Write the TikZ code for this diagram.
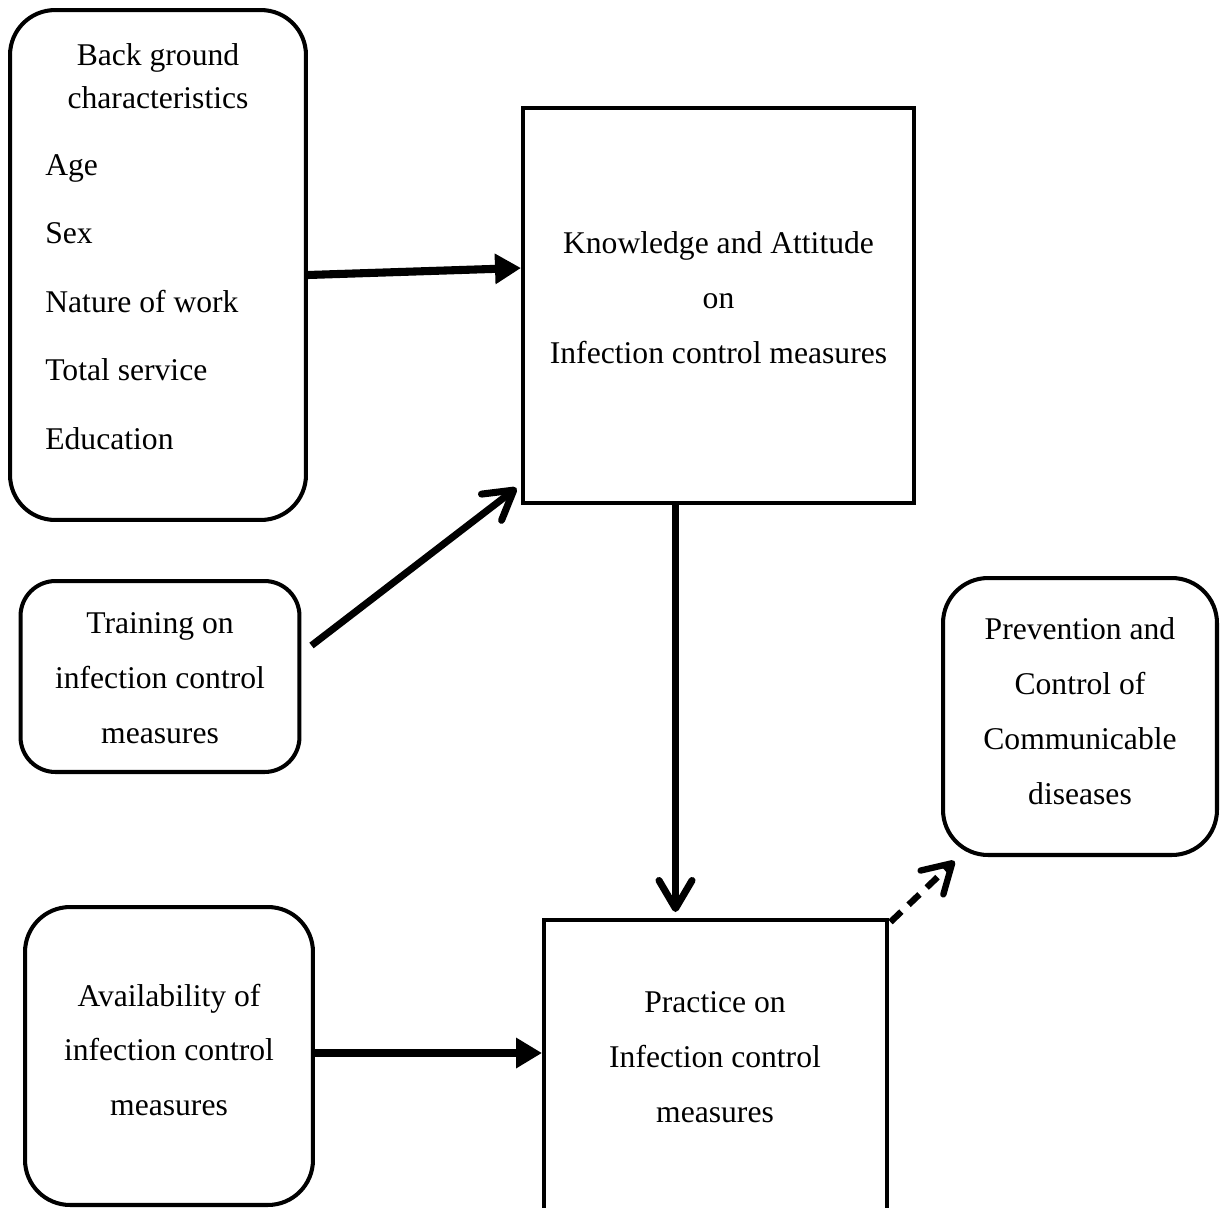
\documentclass[tikz,border=0pt]{standalone}
\usepackage{fontspec}
\setmainfont{Liberation Serif}
\usetikzlibrary{arrows.meta, positioning}

\begin{document}
\begin{tikzpicture}[x=0.02cm, y=-0.02cm,
    font=\fontsize{18}{31.2}\selectfont,
    rbox/.style={draw, line width=2.3pt, rounded corners=0.9cm, inner sep=0pt},
    sqbox/.style={draw, line width=2.3pt, inner sep=0pt},
    txt/.style={align=center, inner sep=0pt},
    fat/.style={line width=4.6pt, -{Triangle[length=0.52cm, width=0.58cm]}},
    barb/.style={line width=4pt, -{Straight Barb[length=0.56cm, width=0.66cm, round]}}]
    \path[use as bounding box] (0,0) rectangle (1227,1207);
    \clip (0,0) rectangle (1227,1207);

    % boxes
    \node[rbox, minimum width=5.92cm, minimum height=10.2cm] (bg) at (158,265) {};
    \node[sqbox, minimum width=7.82cm, minimum height=7.92cm] (know) at (718.5,305.5) {};
    \node[rbox, rounded corners=0.7cm, minimum width=5.58cm, minimum height=3.82cm] (train) at (160,676.5) {};
    \node[rbox, minimum width=5.48cm, minimum height=5.54cm] (prev) at (1080,716.5) {};
    \node[rbox, minimum width=5.76cm, minimum height=5.96cm] (avail) at (169,1056) {};
    \node[sqbox, minimum width=6.86cm, minimum height=7.2cm, anchor=north] (prac) at (715.5,918) {};

    % texts
    \node[txt, font=\fontsize{18}{24.4}\selectfont] (bghead) at (158,76) {Back ground\\characteristics};
    \node[align=left, inner sep=0pt, anchor=west, font=\fontsize{18}{39}\selectfont] (bglist) at (45,302) {Age\\Sex\\Nature of work\\Total service\\Education};
    \node[txt] (knowtxt) at (718.5,297.5) {Knowledge and Attitude\\on\\Infection control measures};
    \node[txt] (traintxt) at (160,678) {Training on\\infection control\\measures};
    \node[txt] (prevtxt) at (1080,711) {Prevention and\\Control of\\Communicable\\diseases};
    \node[txt] (availtxt) at (169,1050) {Availability of\\infection control\\measures};
    \node[txt] (practxt) at (715,1057) {Practice on\\Infection control\\measures};

    % arrows
    \draw[fat] ([yshift=-0.2cm]bg.east) -- ([yshift=0.75cm]know.west);
    \draw[barb] ([xshift=0.2cm, yshift=0.62cm]train.east) -- ([xshift=-0.09cm, yshift=0.35cm]know.south west);
    \coordinate (kdown) at ([xshift=-0.86cm]know.south);
    \draw[barb, shorten >=0.12cm] (kdown) -- (kdown |- prac.north);
    \draw[barb, line width=3.6pt, dash pattern=on 0.3cm off 0.2cm] ([xshift=0.03cm, yshift=-0.08cm]prac.north east) -- ([xshift=0.27cm, yshift=-0.08cm]prev.south west);
    \draw[fat] ([yshift=0.06cm]avail.east) -- ([yshift=0.06cm]avail.east -| prac.west);
\end{tikzpicture}
\end{document}
